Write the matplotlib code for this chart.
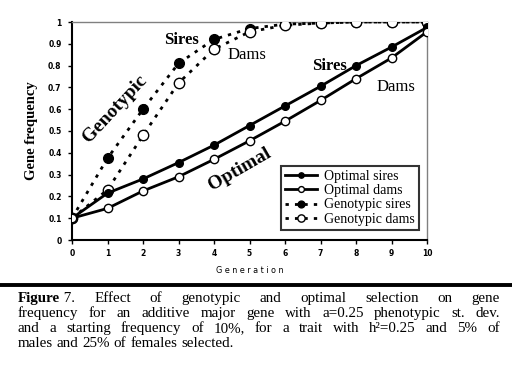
import matplotlib
matplotlib.use("Agg")
import matplotlib.pyplot as plt

generations = [0, 1, 2, 3, 4, 5, 6, 7, 8, 9, 10]
optimal_sires = [0.10, 0.215, 0.28, 0.355, 0.435, 0.525, 0.615, 0.705, 0.80, 0.885, 0.975]
optimal_dams = [0.10, 0.145, 0.225, 0.29, 0.37, 0.455, 0.545, 0.64, 0.74, 0.835, 0.955]
genotypic_sires = [0.10, 0.375, 0.60, 0.81, 0.92, 0.97, 0.99, 0.995, 1.0, 1.0, 1.0]
genotypic_dams = [0.10, 0.23, 0.48, 0.72, 0.875, 0.955, 0.985, 0.995, 1.0, 1.0, 1.0]
y_ticks = [0, 0.1, 0.2, 0.3, 0.4, 0.5, 0.6, 0.7, 0.8, 0.9, 1]
y_tick_labels = ["0", "0.1", "0.2", "0.3", "0.4", "0.5", "0.6", "0.7", "0.8", "0.9", "1"]
caption_lines = [
    "Effect of genotypic and optimal selection on gene",
    "frequency  for an additive major gene with a=0.25 phenotypic st. dev.",
    "and a starting frequency of 10%,  for a trait with h²=0.25 and 5% of",
    "males and 25% of females selected.",
]

W, H = 512, 384
fig = plt.figure(figsize=(W / 100, H / 100), dpi=100)
ax = fig.add_axes([72 / W, 1 - 240 / H, (427 - 72) / W, (240 - 22) / H])

serif = "Liberation Serif"

ax.plot(generations, optimal_sires, "-o", color="black", lw=2.0, ms=5.5,
        mfc="black", mec="black", label="Optimal sires", zorder=4)
ax.plot(generations, optimal_dams, "-o", color="black", lw=2.0, ms=6,
        mfc="white", mec="black", mew=1.0, label="Optimal dams", zorder=4)
ax.plot(generations, genotypic_sires, linestyle=(0, (1.2, 2.2)), marker="o",
        color="black", lw=2.0, ms=7, mfc="black", mec="black",
        label="Genotypic sires", zorder=3)
ax.plot(generations, genotypic_dams, linestyle=(0, (1.2, 2.2)), marker="o",
        color="black", lw=2.0, ms=7.5, mfc="white", mec="black", mew=1.0,
        label="Genotypic dams", zorder=3)

ax.set_xlim(0, 10)
ax.set_ylim(0, 1)
ax.set_xticks(generations)
ax.set_xticklabels([str(g) for g in generations], fontsize=5.5,
                   fontweight="bold", family="DejaVu Sans")
ax.set_yticks(y_ticks)
ax.set_yticklabels(y_tick_labels, fontsize=5.5, fontweight="bold",
                   family="DejaVu Sans")
ax.tick_params(direction="out", length=3, width=1)
ax.tick_params(axis="x", pad=3.5)
ax.tick_params(axis="y", pad=4.5)
for s in ["left", "bottom"]:
    ax.spines[s].set_linewidth(1.5)
    ax.spines[s].set_color("black")
for s in ["top", "right"]:
    ax.spines[s].set_linewidth(1.0)
    ax.spines[s].set_color("#808080")

ax.set_xlabel("G e n e r a t i o n", fontsize=5.8, family="DejaVu Sans", labelpad=6)
ax.set_ylabel("Gene frequency", fontsize=10.5, fontweight="bold",
              family=serif, labelpad=7)

ax.text(1.21, 0.60, "Genotypic", rotation=47, fontsize=14, fontweight="bold",
        family=serif, ha="center", va="center")
ax.text(3.07, 0.917, "Sires", fontsize=12, fontweight="bold", family=serif,
        ha="center", va="center")
ax.text(4.93, 0.85, "Dams", fontsize=12, family=serif, ha="center", va="center")
ax.text(7.24, 0.80, "Sires", fontsize=12, fontweight="bold", family=serif,
        ha="center", va="center")
ax.text(9.13, 0.70, "Dams", fontsize=12, family=serif, ha="center", va="center")
ax.text(4.73, 0.326, "Optimal", rotation=30, fontsize=14, fontweight="bold",
        family=serif, ha="center", va="center")

leg = ax.legend(loc="lower right", bbox_to_anchor=(347 / 355, 10 / 218),
                prop={"family": serif, "size": 10}, frameon=True,
                fancybox=False, shadow=False, handlelength=2.3,
                handletextpad=0.5, borderpad=0.3, labelspacing=0.1,
                borderaxespad=0, markerscale=0.7)
leg.get_frame().set_edgecolor("black")
leg.get_frame().set_linewidth(1.5)

# separator line
fig.add_artist(plt.Line2D([0, 1], [1 - 285 / H, 1 - 285 / H], color="black",
                          lw=2.8, transform=fig.transFigure))

# justified caption
renderer = fig.canvas.get_renderer()
left_px, right_px = 18, 500
baselines = [302, 317, 332, 347]


def build_line(i, line, fs):
    y = 1 - baselines[i] / H
    words = [w for w in line.split(" ") if w != ""]
    if i == 0:
        words = ["Figure 7."] + words
    items = []
    for j, w in enumerate(words):
        if i == 0 and j == 0:
            t1 = fig.text(0, y, "Figure", fontsize=fs, fontweight="bold",
                          family=serif, va="baseline")
            w1 = t1.get_window_extent(renderer).width
            t2 = fig.text(0, y, " 7.", fontsize=fs, family=serif, va="baseline")
            w2 = t2.get_window_extent(renderer).width
            items.append(([t1, t2], [0, w1], w1 + w2))
        else:
            t = fig.text(0, y, w, fontsize=fs, family=serif, va="baseline")
            items.append(([t], [0], t.get_window_extent(renderer).width))
    return items


fs = 10.8
for i, line in enumerate(caption_lines):
    items = build_line(i, line, fs)
    total = sum(it[2] for it in items)
    n = len(items)
    if i < len(caption_lines) - 1 and n > 1:
        gap = (right_px - left_px - total) / (n - 1)
        if gap < 3:
            for it in items:
                for t in it[0]:
                    t.remove()
            shrink = (right_px - left_px - 3 * (n - 1)) / total
            items = build_line(i, line, fs * shrink)
            total = sum(it[2] for it in items)
            gap = (right_px - left_px - total) / (n - 1)
    else:
        gap = 3.8
    x = left_px
    for texts, offs, wd in items:
        for t, o in zip(texts, offs):
            t.set_x((x + o) / W)
        x += wd + gap

fig.savefig("out.png", dpi=100)
